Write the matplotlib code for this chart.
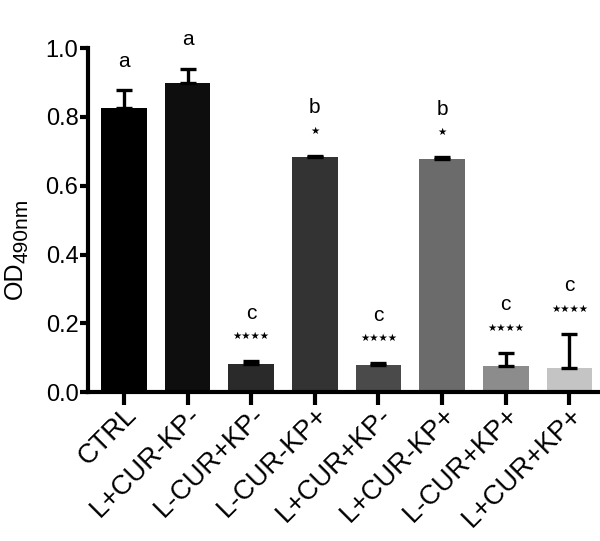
import numpy as np
import matplotlib
matplotlib.use("Agg")
import matplotlib.pyplot as plt

# values
groups = ["CTRL", "L+CUR-KP-", "L-CUR+KP-", "L-CUR-KP+",
          "L+CUR+KP-", "L+CUR-KP+", "L-CUR+KP+", "L+CUR+KP+"]
means = [0.825, 0.90, 0.083, 0.683, 0.078, 0.678, 0.075, 0.070]
errors = [0.052, 0.04, 0.007, 0.004, 0.006, 0.005, 0.04, 0.10]
letters = ["a", "a", "c", "b", "c", "b", "c", "c"]
stars = ["", "", "★★★★", "★", "★★★★", "★", "★★★★", "★★★★"]
colors = ["#000000", "#0e0e0e", "#2a2a2a", "#333333",
          "#4a4a4a", "#6b6b6b", "#8c8c8c", "#c4c4c4"]

plt.rcParams['font.family'] = ['Liberation Sans', 'DejaVu Sans']

fig = plt.figure(figsize=(6, 5.41), dpi=100)
ax = fig.add_axes([0.147, 0.275, 0.853, 0.636])

x = np.arange(len(groups))
ax.bar(x, means, width=0.72, color=colors, zorder=2)
ax.errorbar(x, means, yerr=[np.zeros(len(x)), errors], fmt='none',
            ecolor='black', elinewidth=2.4, capsize=6, capthick=2.4, zorder=3)

# letters and significance stars above each bar
for i in range(len(groups)):
    top = means[i] + errors[i]
    if stars[i]:
        ax.text(x[i], top + 0.073, stars[i], ha='center', va='center',
                fontsize=7.5, family='DejaVu Sans')
        ax.text(x[i], top + 0.14, letters[i], ha='center', va='center', fontsize=15)
    else:
        ax.text(x[i], top + 0.085, letters[i], ha='center', va='center', fontsize=15)

ax.set_xlim(-0.56, 7.48)
ax.set_ylim(0, 1.0)
ax.set_yticks([0.0, 0.2, 0.4, 0.6, 0.8, 1.0])
ax.set_yticklabels(["0.0", "0.2", "0.4", "0.6", "0.8", "1.0"], fontsize=17)
ax.set_xticks(x)
ax.set_xticklabels(groups, rotation=45, ha='right', rotation_mode='anchor', fontsize=19.5)

# y label: OD with a large subscript, placed like the original
fig.text(0.024, 0.482, "OD", rotation=90, ha='center', va='center', fontsize=18)
fig.text(0.037, 0.574, "490nm", rotation=90, ha='center', va='center', fontsize=15)

for side in ['top', 'right']:
    ax.spines[side].set_visible(False)
for side in ['left', 'bottom']:
    ax.spines[side].set_linewidth(3)
ax.tick_params(axis='y', length=6, width=3, pad=1)
ax.tick_params(axis='x', length=9, width=3, pad=-2)

fig.savefig("out.png", dpi=100)
